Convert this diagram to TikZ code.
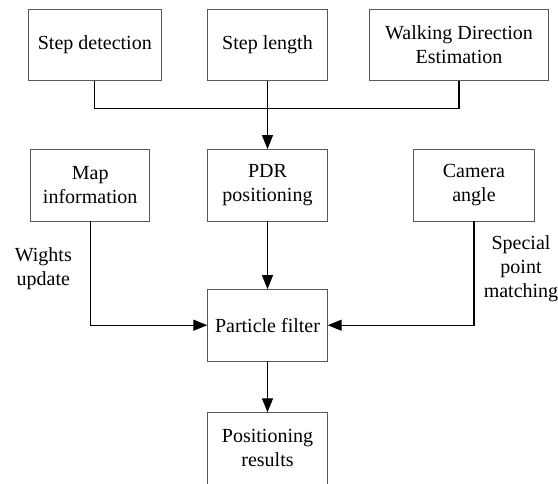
\documentclass[tikz,border=0pt]{standalone}
\usepackage{fontspec}
\setmainfont{Liberation Serif}
\usetikzlibrary{arrows.meta}
\begin{document}
\begin{tikzpicture}[x=1pt,y=-1pt,
  blockbox/.style={draw=black!65, line width=0.8pt, rectangle, inner sep=0pt,
    minimum height=71.4pt, align=center,
    font=\fontsize{20pt}{24pt}\selectfont},
  link/.style={draw=black, line width=1.2pt},
  flow/.style={link, -{Triangle[length=14pt,width=11pt]}},
  tag/.style={align=center, font=\fontsize{20pt}{24pt}\selectfont, inner sep=0pt}]
\useasboundingbox[fill=white] (0,0) rectangle (558,483);
\begin{scope}
\clip (0,0) rectangle (558,483);
% top row
\node[blockbox, minimum width=133pt]   (sd)  at (94.8,45)  {Step detection};
\node[blockbox, minimum width=119.6pt] (sl)  at (267.5,45) {Step length};
\node[blockbox, minimum width=179.4pt] (wde) at (459,45)   {Walking Direction\\Estimation};
% middle row
\node[blockbox, minimum width=119pt]   (map) at (90.2,185.2)  {Map\\information};
\node[blockbox, minimum width=119.6pt] (pdr) at (267.5,185.2) {PDR\\positioning};
\node[blockbox, minimum width=120.6pt] (cam) at (474,185.2)   {Camera\\angle};
% filter and output
\node[blockbox, minimum width=119.6pt] (pf)  at (267.5,325.2) {Particle filter};
\node[blockbox, minimum width=119.6pt] (res) at (267.5,448.4) {Positioning\\results};
% connectors
\draw[link] (sd.south) -- ++(0,27) -| (wde.south);
\draw[flow] (sl.south) -- (pdr.north);
\draw[flow] (pdr.south) -- (pf.north);
\draw[flow] (map.south) |- (pf.west);
\draw[flow] (cam.south) |- (pf.east);
\draw[flow] (pf.south) -- (res.north);
% edge labels
\node[tag] (wu) at (43.3,268.3) {Wights\\update};
\node[tag] (spm) at (521,268.3) {Special\\point\\matching};
\end{scope}
\end{tikzpicture}
\end{document}
